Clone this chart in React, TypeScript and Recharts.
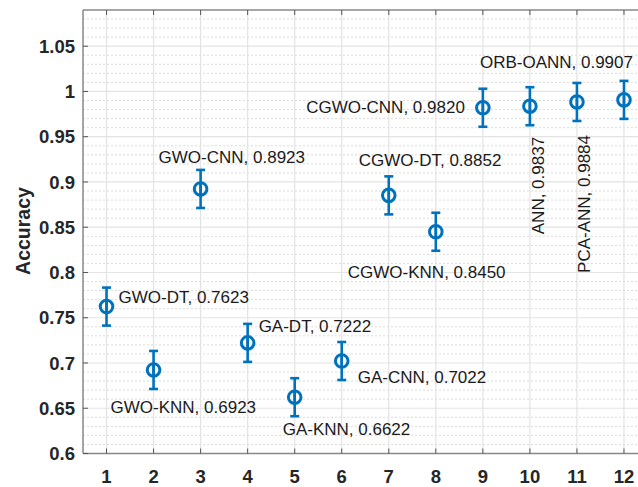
import React from 'react';
import { ScatterChart, Scatter, XAxis, YAxis, CartesianGrid, ErrorBar, ReferenceLine } from 'recharts';

const models = ['GWO-DT', 'GWO-KNN', 'GWO-CNN', 'GA-DT', 'GA-KNN', 'GA-CNN', 'CGWO-DT', 'CGWO-KNN', 'CGWO-CNN', 'ANN', 'PCA-ANN', 'ORB-OANN'];
const accuracy = [0.7623, 0.6923, 0.8923, 0.7222, 0.6622, 0.7022, 0.8852, 0.845, 0.982, 0.9837, 0.9884, 0.9907];
const errors = [0.021, 0.021, 0.021, 0.021, 0.021, 0.021, 0.021, 0.021, 0.021, 0.021, 0.021, 0.021];
const xTicks = [1, 2, 3, 4, 5, 6, 7, 8, 9, 10, 11, 12];
const yTicks = [0.6, 0.65, 0.7, 0.75, 0.8, 0.85, 0.9, 0.95, 1, 1.05];
const yMinor = [
    0.61, 0.62, 0.63, 0.64, 0.66, 0.67, 0.68, 0.69, 0.71, 0.72, 0.73, 0.74, 0.76, 0.77, 0.78, 0.79,
    0.81, 0.82, 0.83, 0.84, 0.86, 0.87, 0.88, 0.89, 0.91, 0.92, 0.93, 0.94, 0.96, 0.97, 0.98, 0.99,
    1.01, 1.02, 1.03, 1.04, 1.06, 1.07, 1.08,
];

// label placement relative to each marker (pixels)
const labelPlace = [
    { dx: 12, dy: -4, anchor: 'start', rot: 0 },
    { dx: -43, dy: 43, anchor: 'start', rot: 0 },
    { dx: -42, dy: -26, anchor: 'start', rot: 0 },
    { dx: 11, dy: -11, anchor: 'start', rot: 0 },
    { dx: -12, dy: 38, anchor: 'start', rot: 0 },
    { dx: 16, dy: 22, anchor: 'start', rot: 0 },
    { dx: -30, dy: -29, anchor: 'start', rot: 0 },
    { dx: -88, dy: 46, anchor: 'start', rot: 0 },
    { dx: -18, dy: 5, anchor: 'end', rot: 0 },
    { dx: 14, dy: 128, anchor: 'start', rot: -90 },
    { dx: 13, dy: 171, anchor: 'start', rot: -90 },
    { dx: 9, dy: -32, anchor: 'end', rot: 0 },
];

const BLUE = '#0072BD';
const FONT = '"Liberation Sans", Arial, Helvetica, sans-serif';
const Y_MAX = 1.09;
const TOP = 10;

const data = models.map((name, i) => ({ x: xTicks[i], y: accuracy[i], err: errors[i], name, idx: i }));

const Marker = (props: any) => {
    const { cx, cy, payload } = props;
    const p = labelPlace[payload.idx];
    const tx = cx + p.dx;
    const ty = cy + p.dy;
    return (
        <g>
            <circle cx={cx} cy={cy} r={6.3} fill="none" stroke={BLUE} strokeWidth={3} />
            <line x1={cx} x2={cx} y1={cy - 6} y2={cy + 6} stroke={BLUE} strokeWidth={2.6} />
            <text
                x={tx}
                y={ty}
                textAnchor={p.anchor}
                transform={p.rot ? `rotate(${p.rot} ${tx} ${ty})` : undefined}
                fontSize={17}
                fontFamily={FONT}
                fill="#1a1a1a"
            >
                {`${payload.name}, ${payload.y.toFixed(4)}`}
            </text>
        </g>
    );
};

const XTick = (props: any) => {
    const { x, y, payload } = props;
    return (
        <g>
            <line x1={x} x2={x} y1={y - 16.5} y2={y - 21.5} stroke="#555" strokeWidth={1} />
            <line x1={x} x2={x} y1={TOP} y2={TOP + 5} stroke="#555" strokeWidth={1} />
            <text x={x} y={y} dy="0.71em" textAnchor="middle" fontSize={18.5} fontWeight="bold" fontFamily={FONT} fill="#262626">
                {payload.value}
            </text>
        </g>
    );
};

const YTick = (props: any) => {
    const { x, y, payload } = props;
    return (
        <g>
            <line x1={x + 8} x2={x + 13} y1={y} y2={y} stroke="#555" strokeWidth={1} />
            <text x={x} y={y} dy="0.36em" textAnchor="end" fontSize={18.5} fontWeight="bold" fontFamily={FONT} fill="#262626">
                {payload.value}
            </text>
        </g>
    );
};

const YLabel = () => (
    <text x={23} y={231} transform="rotate(-90 23 231)" textAnchor="middle" dominantBaseline="central" fontSize={19.5} fontWeight="bold" fontFamily={FONT} fill="#262626">
        Accuracy
    </text>
);

const App = () => {
    return (
        <div style={{ position: 'fixed', left: 0, top: 0, width: 638, height: 487, overflow: 'hidden', background: '#fff' }}>
            <ScatterChart width={700} height={487} margin={{ top: TOP, right: 52.5, bottom: 3.5, left: 0 }}>
                <CartesianGrid horizontalValues={yMinor} vertical={false} stroke="#dcdcdc" strokeDasharray="2 2" />
                <CartesianGrid horizontalValues={yTicks} verticalValues={xTicks} stroke="#e3e3e3" strokeWidth={1.2} />
                <XAxis
                    type="number"
                    dataKey="x"
                    domain={[0.5, 12.5]}
                    ticks={xTicks}
                    interval={0}
                    height={30}
                    tickSize={0}
                    tickMargin={16.5}
                    tick={<XTick />}
                    axisLine={{ stroke: '#888', strokeWidth: 1.5 }}
                />
                <YAxis
                    type="number"
                    dataKey="y"
                    domain={[0.6, Y_MAX]}
                    ticks={yTicks}
                    interval={0}
                    width={83}
                    tickSize={0}
                    tickMargin={8}
                    tick={<YTick />}
                    axisLine={{ stroke: '#888', strokeWidth: 1.5 }}
                    label={{ content: <YLabel /> }}
                />
                <ReferenceLine y={Y_MAX} stroke="#888" strokeWidth={1.5} />
                <Scatter data={data} shape={<Marker />} isAnimationActive={false}>
                    <ErrorBar dataKey="err" direction="y" width={4.5} strokeWidth={2.6} stroke={BLUE} />
                </Scatter>
            </ScatterChart>
        </div>
    );
};

export default App;
